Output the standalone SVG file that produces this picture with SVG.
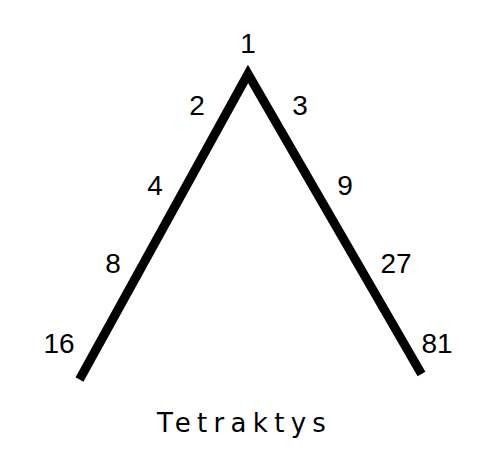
<svg xmlns="http://www.w3.org/2000/svg" width="500" height="455" viewBox="0 0 500 455">
<style>
.lbl{font-family:"Liberation Sans",Arial,sans-serif;font-size:28px;fill:#000;text-anchor:middle}
.title{font-family:"DejaVu Sans",sans-serif;font-size:26px;fill:#000;letter-spacing:6.3px}
.edge{fill:none;stroke:#000;stroke-width:9;stroke-linejoin:miter;stroke-linecap:butt}
</style>
<rect width="500" height="455" fill="#fff"/>
<g id="connectors">
<path class="edge" d="M79.5,379.5 L248,74 L421.5,374"/>
</g>
<g id="n1"><text class="lbl" x="248" y="53">1</text></g>
<g id="n2"><text class="lbl" x="197" y="115">2</text></g>
<g id="n3"><text class="lbl" x="300" y="115">3</text></g>
<g id="n4"><text class="lbl" x="155" y="195">4</text></g>
<g id="n9"><text class="lbl" x="345" y="195">9</text></g>
<g id="n8"><text class="lbl" x="113" y="273">8</text></g>
<g id="n27"><text class="lbl" x="396" y="273">27</text></g>
<g id="n16"><text class="lbl" x="59" y="353">16</text></g>
<g id="n81"><text class="lbl" x="437" y="353">81</text></g>
<g id="title"><text class="title" x="157" y="432">Tetraktys</text></g>
</svg>
